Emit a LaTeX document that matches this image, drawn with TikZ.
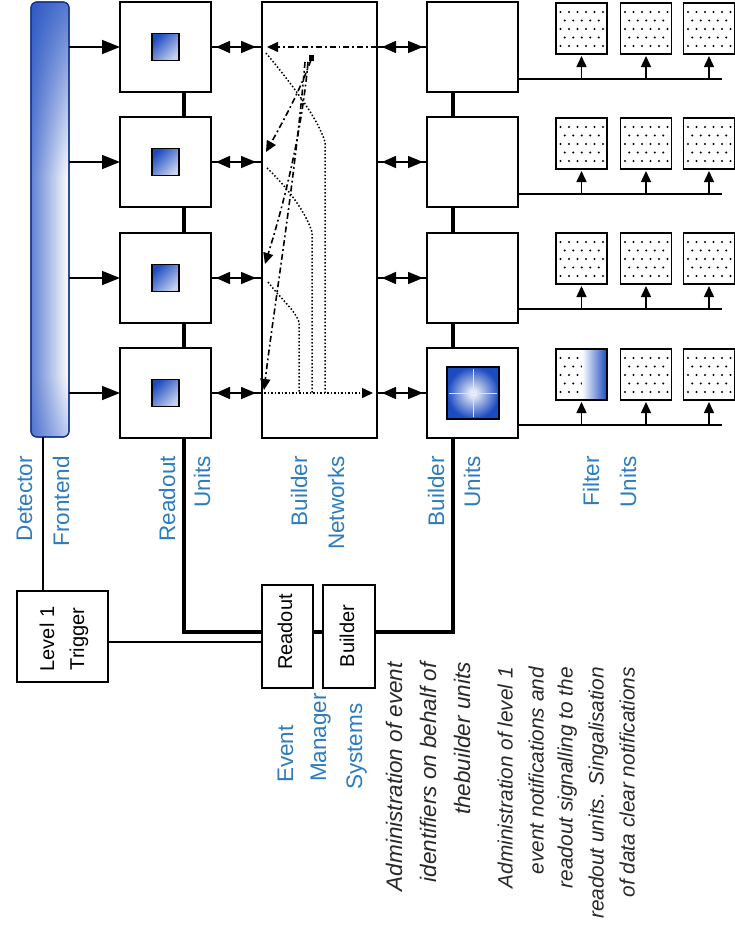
\documentclass[tikz,border=0pt]{standalone}
\usepackage{fontspec}
\setmainfont{Liberation Sans}
\usetikzlibrary{arrows.meta,fadings}
\definecolor{blueD}{RGB}{28,75,192}
\definecolor{lblblue}{RGB}{45,125,190}
\definecolor{notegray}{RGB}{40,40,40}
\tikzfading[name=leftfade, left color=transparent!30, right color=transparent!100]
\pgfdeclareverticalshading{detshade}{100bp}{color(0bp)=(blueD); color(9bp)=(blueD!90); color(32bp)=(white); color(55bp)=(white); color(80bp)=(blueD!92); color(100bp)=(blueD)}
\tikzset{
  unitbox/.style={draw, line width=1.7pt, fill=white, inner sep=0pt, outer sep=0pt},
  filterbox/.style={unitbox, minimum width=51pt, minimum height=51pt},
  minisq/.style={draw=black, line width=1.3pt, minimum width=27pt, minimum height=27pt, inner sep=0pt, outer sep=0pt, left color=blueD, right color=white!75!blueD, shading angle=45},
  bigsq/.style={draw=black, line width=1.3pt, minimum width=52pt, minimum height=52pt, inner sep=0pt, outer sep=0pt, inner color=white, outer color=blueD},
  thickline/.style={line width=4.5pt},
  thinline/.style={line width=1.5pt},
  bigarrow/.style={line width=1.5pt, -{Triangle[length=18pt,width=14pt]}},
  dblarrow/.style={line width=1.5pt, {Triangle[length=14pt,width=12pt]}-{Triangle[length=15pt,width=12pt]}},
  smallarrow/.style={line width=1.5pt, -{Triangle[length=11pt,width=10pt]}},
  tinyarrow/.style={-{Triangle[length=11pt,width=10pt]}},
  dashdot/.style={line width=1.6pt, dash pattern=on 6pt off 3pt on 1.8pt off 3pt},
  dotline/.style={line width=1.5pt, dash pattern=on 1.5pt off 2pt},
  lbl/.style={rotate=90, text=lblblue, font=\fontsize{22.5}{27}\selectfont, inner sep=0pt, text height=16pt, text depth=0pt},
  boxtxt/.style={rotate=90, font=\fontsize{20}{24}\selectfont, inner sep=0pt, text height=14.4pt, text depth=0pt},
  noteA/.style={rotate=90, text=notegray, font=\fontsize{22.5}{27}\selectfont\itshape, inner sep=0pt, text height=16pt, text depth=0pt, anchor=east},
  noteB/.style={rotate=90, text=notegray, font=\fontsize{20.8}{25}\selectfont\itshape, inner sep=0pt, text height=15pt, text depth=0pt, anchor=east},
}
\begin{document}
\begin{tikzpicture}[x=1pt,y=-1pt]
\useasboundingbox (0,0) rectangle (735,927);
\fill[white] (0,0) rectangle (735,927);

% Detector frontend bar
\node[draw=blueD!70!black, line width=1.2pt, rounded corners=6pt, shading=detshade, minimum width=38pt, minimum height=435pt, inner sep=0pt, outer sep=0pt] (det) at (50,219.5) {};
\fill[blueD, path fading=leftfade, rounded corners=6pt] (det.north west) rectangle (det.south east);
\draw[blueD!70!black, line width=1.2pt, rounded corners=6pt] (det.north west) rectangle (det.south east);

% Builder network box
\node[unitbox, minimum width=115pt, minimum height=436pt] (net) at (319.5,220) {};

% Readout and builder units
\foreach \i/\y in {1/47,2/162,3/278,4/393} {
  \node[unitbox, minimum width=91pt, minimum height=90pt] (r\i) at (165.5,\y) {};
  \node[minisq] (rs\i) at (165.5,\y) {};
  \node[unitbox, minimum width=91pt, minimum height=90pt] (b\i) at (472.5,\y) {};
}
\node[bigsq] (bs) at (473,393) {};
\draw[white!85!blueD, line width=1pt] ([yshift=-2pt]bs.north) -- ([yshift=2pt]bs.south);
\draw[white!85!blueD, line width=1pt] ([xshift=2pt]bs.west) -- ([xshift=-2pt]bs.east);

% Filter units
\foreach \i/\y in {1/28.5,2/143.5,3/258.5,4/374.5}{
  \foreach \c/\x in {1/581.5,2/646,3/709}{
    \node[filterbox] (f\i\c) at (\x,\y) {};
    \foreach \j in {0,2,4}{\foreach \k in {0,...,5}{
      \fill ([shift={(4.5+8.5*\k,9+8.5*\j)}]f\i\c.north west) circle (1.1pt);}}
    \foreach \j in {1,3}{\foreach \k in {0,...,4}{
      \fill ([shift={(8.75+8.5*\k,9+8.5*\j)}]f\i\c.north west) circle (1.1pt);}}
  }
}
\shade[left color=white, right color=blueD] ([xshift=0.5pt]f41.north) rectangle (f41.south east);
\draw[line width=1.7pt] (f41.north west) rectangle (f41.south east);

% Builder to filter lines
\foreach \i/\y in {1/79,2/194,3/309,4/425}{
  \coordinate (fe\i) at (722,\y);
  \draw[thinline] (b\i.east |- fe\i) -- (fe\i);
  \foreach \c in {1,2,3}{
    \draw[smallarrow] (f\i\c.south |- fe\i) -- ([yshift=-2pt]f\i\c.south);
  }
}

% Arrows between columns
\foreach \i in {1,...,4}{
  \draw[bigarrow] (det.east |- r\i) -- (r\i.west);
  \draw[thinline] (r\i.east) -- (net.west |- r\i);
  \draw[dblarrow, shorten <=5pt, shorten >=6pt] (r\i.east) -- (net.west |- r\i);
  \draw[thinline] (net.east |- b\i) -- (b\i.west);
  \draw[dblarrow, shorten <=5pt, shorten >=4pt] (net.east |- b\i) -- (b\i.west);
}

% Thick chains
\foreach \i/\j in {1/2,2/3,3/4}{
  \draw[thickline] ([xshift=18.5pt]r\i.south) -- ([xshift=18.5pt]r\j.north);
  \draw[thickline] ([xshift=-19.5pt]b\i.south) -- ([xshift=-19.5pt]b\j.north);
}

% Builder network internals
\coordinate (nL1) at (267,47);
\draw[dashdot, tinyarrow] (net.east |- r1) -- (nL1);
\fill (309,55) rectangle (314,61);
\draw[dashdot, tinyarrow] (311,60) .. controls (300,90) and (285,118) .. (266,152);
\draw[dashdot, tinyarrow] (308,62) .. controls (302,130) and (285,200) .. (265,264);
\draw[dashdot, tinyarrow] (305,62) .. controls (295,180) and (275,300) .. (264,390);
\draw[dotline] (266,53) .. controls (290,82) and (318,118) .. (325,142) -- (325,393);
\draw[dotline] (267,168) .. controls (285,185) and (305,210) .. (312,232) -- (312,393);
\draw[dotline] (268,282) .. controls (280,298) and (295,310) .. (299,322) -- (299,393);
\draw[dotline, tinyarrow] (264,393) -- (373,393);

% Event manager systems and trigger
\node[unitbox, minimum width=91pt, minimum height=91pt] (trig) at (62.5,636.5) {};
\node[boxtxt] (trigA) at (47,639) {Level 1};
\node[boxtxt] (trigB) at (77,639) {Trigger};
\node[unitbox, minimum width=51pt, minimum height=103pt] (emr) at (287.5,636.5) {};
\node[boxtxt] (emrt) at (285,632) {Readout};
\node[unitbox, minimum width=52pt, minimum height=103pt] (emb) at (349,636.5) {};
\node[boxtxt] (embt) at (347,636) {Builder};

\draw[thinline] ([xshift=-7pt]det.south) -- ([xshift=-7pt]det.south |- trig.north);
\draw[thinline] ([yshift=-5.5pt]trig.east) -- ([yshift=-5.5pt]emr.west);
\coordinate (rdown) at (184,632);
\draw[thickline] ([xshift=18.5pt]r4.south) -- (rdown) -- ([yshift=4.5pt]emr.west);
\draw[thickline] ([yshift=4.5pt]emr.east) -- ([yshift=4.5pt]emb.west);
\coordinate (bdown) at (453,632);
\draw[thickline] ([yshift=4.5pt]emb.east) -- (bdown) -- ([xshift=-19.5pt]b4.south);

% Blue labels
\node[lbl, anchor=east] (tDet) at (24,456) {Detector};
\node[lbl, anchor=east] (tFro) at (61,456) {Frontend};
\node[lbl, anchor=east] (tRo) at (167,456) {Readout};
\node[lbl, anchor=east] (tRoU) at (202,456) {Units};
\node[lbl, anchor=east] (tBn) at (299,456) {Builder};
\node[lbl, anchor=east] (tBnN) at (336,456) {Networks};
\node[lbl, anchor=east] (tBu) at (436,456) {Builder};
\node[lbl, anchor=east] (tBuU) at (472,456) {Units};
\node[lbl, anchor=east] (tFi) at (591,456) {Filter};
\node[lbl, anchor=east] (tFiU) at (628,456) {Units};
\node[lbl, anchor=west] (tEv) at (285,783) {Event};
\node[lbl, anchor=west] (tMa) at (318,782) {Manager};
\node[lbl, anchor=west] (tSy) at (354,790) {Systems};

% Notes
\node[noteA] (nA1) at (394,662) {Administration of event};
\node[noteA] (nA2) at (428,662) {identifiers on behalf of};
\node[noteA] (nA3) at (462,662) {thebuilder units};
\node[noteB] (nB1) at (505,667) {Administration of level 1};
\node[noteB] (nB2) at (536,667) {event notifications and};
\node[noteB] (nB3) at (565,667) {readout signalling to the};
\node[noteB] (nB4) at (596,667) {readout units. Singalisation};
\node[noteB] (nB5) at (627,667) {of data clear notifications};
\end{tikzpicture}
\end{document}
